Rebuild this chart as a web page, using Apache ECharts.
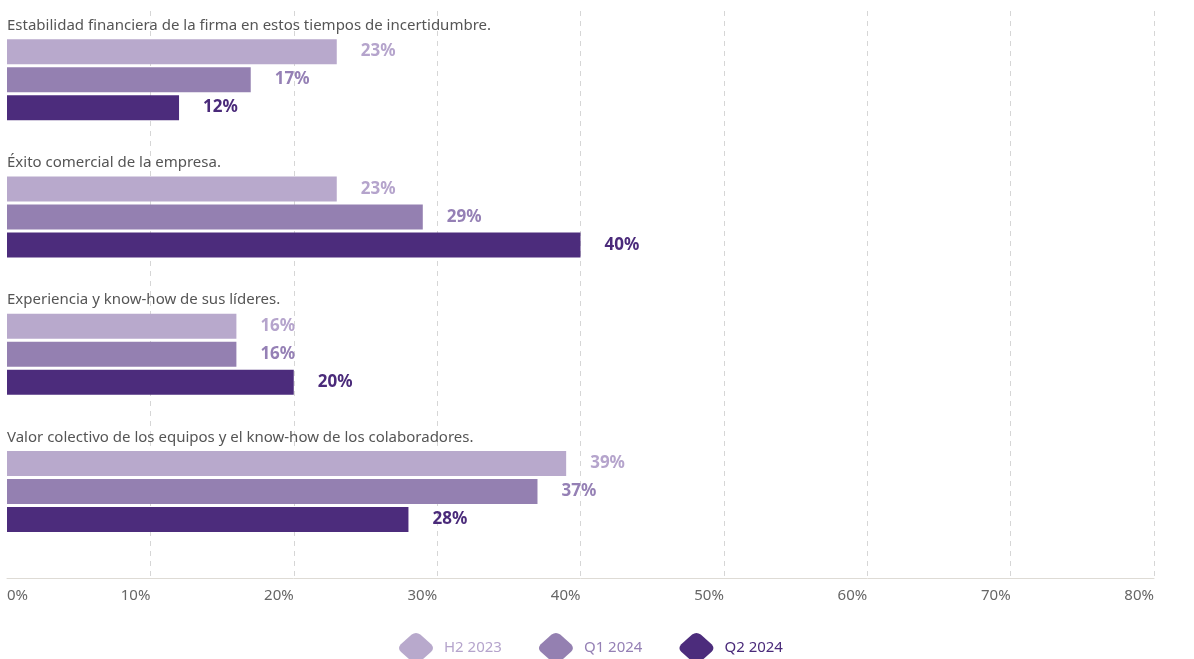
<!DOCTYPE html>
<html>
<head>
<meta charset="utf-8">
<script src="https://cdn.jsdelivr.net/npm/echarts@6/dist/echarts.min.js"></script>
<style>
html,body{margin:0;padding:0;background:#fff;}
#chart{width:1194px;height:659px;}
</style>
</head>
<body>
<div id="chart"></div>
<script>
const categories = [
  'Estabilidad financiera de la firma en estos tiempos de incertidumbre.',
  'Éxito comercial de la empresa.',
  'Experiencia y know-how de sus líderes.',
  'Valor colectivo de los equipos y el know-how de los colaboradores.'
];
const seriesNames = ['H2 2023', 'Q1 2024', 'Q2 2024'];
const h2_2023 = [23, 23, 16, 39];
const q1_2024 = [17, 29, 16, 37];
const q2_2024 = [12, 40, 20, 28];
const axisMin = 0, axisMax = 80, axisStep = 10;

const FONT = '"Noto Sans", sans-serif';
const barColors = ['#b8a9cc', '#9480b1', '#4c2c7c'];
const labelColors = ['#b5a4cc', '#9580b5', '#4a2a7a'];
const seriesValues = [h2_2023, q1_2024, q2_2024];
const iconPath = 'path://M38,8 Q50,-2 62,8 L92,38 Q102,50 92,62 L62,92 Q50,102 38,92 L8,62 Q-2,50 8,38 Z';

const chart = echarts.init(document.getElementById('chart'), null, {renderer: 'canvas'});
chart.setOption({
  animation: false,
  backgroundColor: '#ffffff',
  textStyle: {fontFamily: FONT},
  grid: [
    {left: 7, right: 40, top: 11, bottom: 99, containLabel: false, outerBoundsMode: 'none'},
    {left: 7, right: 40, top: 11, bottom: 81, containLabel: false, outerBoundsMode: 'none'}
  ],
  legend: {
    top: 628,
    left: 394,
    itemWidth: 34,
    itemHeight: 30,
    itemGap: 37,
    icon: iconPath,
    symbolKeepAspect: false,
    textStyle: {fontFamily: FONT, fontSize: 15, padding: [0, 0, 0, 6]},
    data: seriesNames.map((n, i) => ({name: n, textStyle: {color: labelColors[i]}}))
  },
  xAxis: [
    {type: 'value', gridIndex: 0, min: axisMin, max: axisMax, interval: axisStep, show: false},
    {
      type: 'value', gridIndex: 1, min: axisMin, max: axisMax, interval: axisStep,
      axisLine: {show: true, lineStyle: {color: '#dedbd5', width: 1}},
      axisTick: {show: false},
      splitLine: {show: true, showMinLine: false, lineStyle: {color: '#d6d6d6', type: [5, 5], width: 1}},
      axisLabel: {
        color: '#666666', fontSize: 15, fontFamily: FONT, margin: 10,
        align: 'right', alignMinLabel: 'left',
        formatter: v => v + '%'
      }
    }
  ],
  yAxis: [
    {
      type: 'category', gridIndex: 0, data: categories, inverse: true,
      axisLine: {show: false}, axisTick: {show: false},
      axisLabel: {
        inside: true, margin: 0, color: '#555555', fontSize: 15, fontFamily: FONT,
        verticalAlign: 'bottom', lineHeight: 108
      },
      z: 10
    },
    {type: 'value', gridIndex: 1, show: false, min: 0, max: 1}
  ],
  series: seriesNames.map((n, i) => ({
    name: n,
    type: 'bar',
    xAxisIndex: 0,
    yAxisIndex: 0,
    data: seriesValues[i],
    barWidth: 25,
    barGap: '12%',
    itemStyle: {color: barColors[i]},
    label: {
      show: true, position: 'right', distance: 24,
      color: labelColors[i], fontWeight: 'bold', fontSize: 17, fontFamily: FONT,
      formatter: p => p.value + '%'
    }
  }))
});
</script>
</body>
</html>
